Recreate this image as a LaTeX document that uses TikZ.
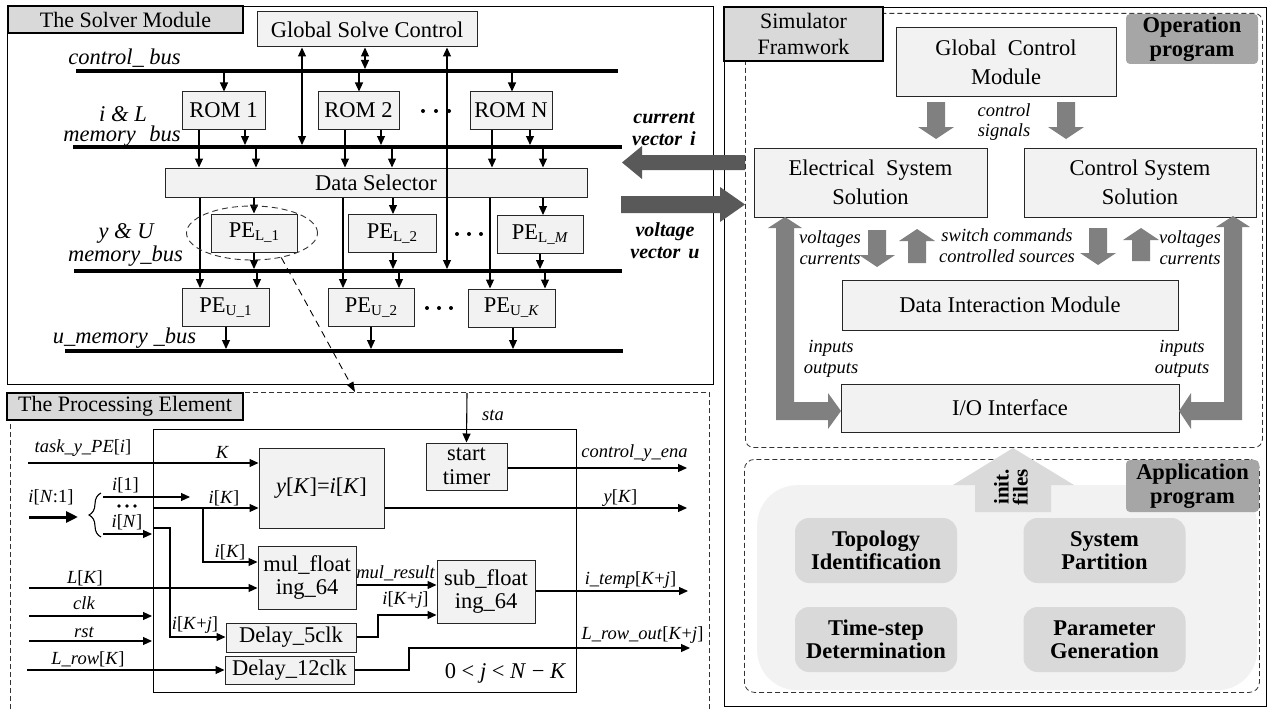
\documentclass[tikz,border=0pt]{standalone}
\usepackage{fontspec}
\setmainfont{Liberation Serif}
\usetikzlibrary{arrows.meta,decorations.pathreplacing,shapes.geometric}
\definecolor{boxfill}{HTML}{F2F2F2}
\definecolor{titlefill}{HTML}{D9D9D9}
\definecolor{labelfill}{HTML}{A6A6A6}
\definecolor{darkarrow}{HTML}{595959}
\definecolor{midarrow}{HTML}{808080}
\definecolor{appfill}{HTML}{F2F2F2}
\definecolor{appbox}{HTML}{D9D9D9}
\definecolor{initfill}{HTML}{DADADA}
\newcommand\bigfont{\fontsize{22.5}{26}\selectfont}
\newcommand\boxfont{\fontsize{22.5}{28.5}\selectfont}
\newcommand\tightfont{\fontsize{22.5}{23.5}\selectfont}
\newcommand\smallfont{\fontsize{18.5}{21}\selectfont}
\newcommand\medfont{\fontsize{20}{22}\selectfont}
\newcommand\initfont{\fontsize{21}{19}\selectfont}
\newcommand\pesub[1]{\raisebox{-0.3ex}{\fontsize{15}{15}\selectfont #1}}
\newcommand\lbk{\textup{[}}
\newcommand\rbk{\textup{]}}
\newcommand\blockdown[3]{\fill[midarrow] ({#1-9},#2) -- ({#1+9},#2) -- ({#1+9},{#3-12}) -- ({#1+18},{#3-12}) -- (#1,#3) -- ({#1-18},{#3-12}) -- ({#1-9},{#3-12}) -- cycle;}
\newcommand\blockup[3]{\fill[midarrow] ({#1-9},#3) -- ({#1+9},#3) -- ({#1+9},{#2+12}) -- ({#1+18},{#2+12}) -- (#1,#2) -- ({#1-18},{#2+12}) -- ({#1-9},{#2+12}) -- cycle;}
\tikzset{
  frame/.style={draw=black, line width=1.2pt, inner sep=0pt},
  dashframe/.style={draw=black!80, line width=0.8pt, dash pattern=on 5pt off 3pt, inner sep=0pt},
  titlebox/.style={draw=black, fill=titlefill, line width=1.2pt, inner sep=0pt, align=center, font=\fontsize{22}{26}\selectfont},
  box/.style={draw=black!85, fill=boxfill, line width=1pt, inner sep=0pt, align=center, font=\boxfont},
  pebox/.style={draw=black!85, fill=boxfill, line width=1pt, inner sep=0pt, align=center, font=\tightfont},
  oplabel/.style={fill=labelfill, rounded corners=4pt, inner sep=0pt, align=center, font=\tightfont\bfseries},
  appb/.style={fill=appbox, rounded corners=14pt, inner sep=0pt, align=center, font=\tightfont\bfseries, minimum width=162, minimum height=65},
  lbl/.style={inner sep=0pt, font=\smallfont\itshape, align=center},
  buslbl/.style={inner sep=0pt, font=\bigfont\itshape, align=center},
  bus/.style={line width=4pt},
  arr/.style={line width=1.1pt, -{Triangle[length=9pt,width=8pt]}},
  darr/.style={line width=1.1pt, {Triangle[length=9pt,width=8pt]}-{Triangle[length=9pt,width=8pt]}},
  dotc/.style={fill=black},
}
\begin{document}
\begin{tikzpicture}[x=1pt,y=-1pt]
\useasboundingbox (0,0) rectangle (1267,709);
\fill[white] (0,0) rectangle (1267,709);

% ================= Solver module
\node[frame, minimum width=706, minimum height=378, anchor=north west] (solver) at (7,6) {};
\node[titlebox, minimum width=235, minimum height=27] (soltitle) at (125.5,19.5) {The Solver Module};
\node[box, font=\bigfont, minimum width=220, minimum height=35] (GSC) at (367,29.5) {Global Solve Control};
\node[box, font=\bigfont, minimum width=83, minimum height=37] (ROM1) at (223.5,110.5) {ROM 1};
\node[box, font=\bigfont, minimum width=81, minimum height=37] (ROM2) at (358.5,110.5) {ROM 2};
\node[box, font=\bigfont, minimum width=82, minimum height=37] (ROMN) at (511,110.5) {ROM N};

\coordinate (cbus) at (0,71);  \coordinate (cbusT) at (0,69);
\coordinate (ilbus) at (0,147); \coordinate (ilbusT) at (0,145);
\coordinate (yubus) at (0,271); \coordinate (yubusT) at (0,269);
\coordinate (ubus) at (0,351);  \coordinate (ubusT) at (0,349);

\draw[bus] (76,71) -- (618,71);
\draw[bus] (73,147) -- (622,147);
\draw[bus] (74,271) -- (622,271);
\draw[bus] (65,351) -- (623,351);

\node[buslbl] at (124.5,58) {control\_\ bus};
\node[buslbl] at (123,114) {i \& L};
\node[buslbl] at (122,136) {memory\hspace{0.6em}bus};
\node[buslbl] at (126,233) {y \& U};
\node[buslbl] at (125.5,256) {memory\_bus};
\node[buslbl] at (124.5,338) {u\_memory \_bus};

\node[box, font=\bigfont, minimum width=422, minimum height=29] (DS) at (376,182.5) {Data Selector};
\node[box, font=\bigfont, minimum width=86, minimum height=38] (PEL1) at (254,233) {PE\pesub{L\_1}};
\node[box, font=\bigfont, minimum width=88, minimum height=38] (PEL2) at (392,233.5) {PE\pesub{L\_2}};
\node[box, font=\bigfont, minimum width=86, minimum height=38] (PELM) at (540,234.5) {PE\pesub{L\_\textit{M}}};
\node[box, font=\bigfont, minimum width=87, minimum height=38] (PEU1) at (225.5,307.5) {PE\pesub{U\_1}};
\node[box, font=\bigfont, minimum width=86, minimum height=38] (PEU2) at (371,307.5) {PE\pesub{U\_2}};
\node[box, font=\bigfont, minimum width=87, minimum height=38] (PEUK) at (511.5,308) {PE\pesub{U\_\textit{K}}};

% global control links
\draw[darr] (GSC.south -| 302,0) -- (302,0 |- ilbusT);
\draw[darr] (GSC.south -| 365,0) -- (365,0 |- cbusT);
\draw[darr] (GSC.south -| 447,0) -- (447,0 |- yubusT);
% control bus -> ROMs
\draw[arr] (224,0 |- cbus) -- (ROM1.north -| 224,0);
\draw[arr] (359,0 |- cbus) -- (ROM2.north -| 359,0);
\draw[arr] (512,0 |- cbus) -- (ROMN.north -| 512,0);
% ROMs -> bus / selector
\draw[arr] (ROM1.south -| 245,0) -- (245,0 |- ilbusT);
\draw[arr] (ROM1.south -| 199,0) -- (DS.north -| 199,0);
\draw[arr] (256,0 |- ilbus) -- (DS.north -| 256,0);
\draw[arr] (ROM2.south -| 381,0) -- (381,0 |- ilbusT);
\draw[arr] (ROM2.south -| 345,0) -- (DS.north -| 345,0);
\draw[arr] (392,0 |- ilbus) -- (DS.north -| 392,0);
\draw[arr] (ROMN.south -| 530,0) -- (530,0 |- ilbusT);
\draw[arr] (ROMN.south -| 492,0) -- (DS.north -| 492,0);
\draw[arr] (543,0 |- ilbus) -- (DS.north -| 543,0);
% selector -> PEs
\draw[arr] (DS.south -| 200,0) -- (PEU1.north -| 200,0);
\draw[arr] (DS.south -| 254,0) -- (PEL1.north -| 254,0);
\draw[arr] (PEL1.south -| 254,0) -- (254,0 |- yubusT);
\draw[arr] (257,0 |- yubus) -- (PEU1.north -| 257,0);
\draw[arr] (PEU1.south -| 226,0) -- (226,0 |- ubusT);
\draw[arr] (DS.south -| 343,0) -- (PEU2.north -| 343,0);
\draw[arr] (DS.south -| 393,0) -- (PEL2.north -| 393,0);
\draw[arr] (PEL2.south -| 393,0) -- (393,0 |- yubusT);
\draw[arr] (399,0 |- yubus) -- (PEU2.north -| 399,0);
\draw[arr] (PEU2.south -| 371,0) -- (371,0 |- ubusT);
\draw[arr] (DS.south -| 490,0) -- (PEUK.north -| 490,0);
\draw[arr] (DS.south -| 543,0) -- (PELM.north -| 543,0);
\draw[arr] (PELM.south -| 540,0) -- (540,0 |- yubusT);
\draw[arr] (545,0 |- yubus) -- (PEUK.north -| 545,0);
\draw[arr] (PEUK.south -| 513,0) -- (513,0 |- ubusT);

% dots
\foreach \dx in {423,436,449} {\fill (\dx,111) circle[radius=2pt];}
\foreach \dx in {457,469,481} {\fill (\dx,234) circle[radius=2pt];}
\foreach \dx in {427,439,451} {\fill (\dx,308) circle[radius=2pt];}

% zoom ellipse and dashed link
\node[ellipse, draw=black!80, line width=0.9pt, dash pattern=on 6pt off 4pt, minimum width=131, minimum height=54, inner sep=0pt] (ell) at (252,233) {};
\coordinate (pecorner) at (355,392);

% ================= Processing element
\node[dashframe, minimum width=699, minimum height=330, anchor=north west] (peframe) at (10,392) {};
\draw[line width=0.9pt, dash pattern=on 7pt off 5pt, -{Triangle[length=10pt,width=7pt]}] (ell.-40) -- (pecorner);
\node[titlebox, minimum width=236, minimum height=27] (petitle) at (125,406.5) {The Processing Element};
\node[frame, minimum width=423, minimum height=263, anchor=north west] (pebig) at (153,429) {};

\node[pebox, minimum width=125, minimum height=80] (yK) at (321.5,488) {\textit{y}[\textit{K}]=\textit{i}[\textit{K}]};
\node[pebox, minimum width=81, minimum height=47] (timer) at (466.5,466.5) {start\\timer};
\node[pebox, minimum width=98, minimum height=63] (mul) at (307,577.5) {mul\_float\\ing\_64};
\node[pebox, minimum width=98, minimum height=63] (sub) at (486,591.5) {sub\_float\\ing\_64};
\node[pebox, minimum width=130, minimum height=29] (D5) at (291,637.5) {Delay\_5clk};
\node[pebox, minimum width=129, minimum height=28] (D12) at (289.5,670) {Delay\_12clk};

% inputs
\draw[arr] (28,463) -- (yK.west |- 0,463);
\node[lbl] at (83,448) {task\_y\_PE\lbk i\rbk};
\node[lbl] at (222,452) {K};
\draw[line width=3pt, -{Triangle[length=12pt,width=11pt]}] (29,517) -- (78,517);
\node[lbl] at (51,497) {i\lbk N\textup{:1}\rbk};
\draw[line width=1.1pt, decorate, decoration={brace, amplitude=12pt}] (101,537) -- (101,493);
\draw[arr] (103,497) -- (190,497);
\node[lbl] at (125.5,485) {i\lbk\textup{1}\rbk};
\foreach \dx in {119,127,135} {\fill (\dx,506) circle[radius=1.8pt];}
\draw[arr] (103,534) -- (152,534);
\node[lbl] at (127,522) {i\lbk N\rbk};
\draw[arr] (153,508) -- (yK.west |- 0,508);
\node[lbl] at (224,498) {i\lbk K\rbk};
\draw[arr] (203,508) -- (203,562) -- (mul.west |- 0,562);
\node[lbl] at (230,552) {i\lbk K\rbk};
\draw[arr] (153,528) -- (170,528) -- (170,637) -- (D5.west |- 0,637);
\node[lbl] at (195,625) {i\lbk K\textup{+}j\rbk};
\draw[arr] (29,588) -- (mul.west |- 0,588);
\node[lbl] at (85,578) {L\lbk K\rbk};
\draw[arr] (29,616) -- (152,616);
\node[lbl] at (84,603) {clk};
\draw[arr] (29,641) -- (152,641);
\node[lbl] at (84,632) {rst};
\draw[arr] (27,670) -- (D12.west);
\node[lbl] at (88,659) {L\_row\lbk K\rbk};

% outputs
\draw[arr] (467,393) -- (timer.north);
\node[lbl] at (493,415) {sta};
\draw[arr] (timer.east |- 0,468) -- (687,468);
\node[lbl] at (634.5,453) {control\_y\_ena};
\draw[arr] (yK.east |- 0,508) -- (687,508);
\node[lbl] at (620.5,498) {y\lbk K\rbk};
\draw[arr] (mul.east |- 0,585) -- (sub.west |- 0,585);
\node[lbl] at (395.5,573) {mul\_result};
\draw[arr] (D5.east |- 0,637) -- (378,637) -- (378,615) -- (sub.west |- 0,615);
\node[lbl] at (405.5,600) {i\lbk K\textup{+}j\rbk};
\draw[arr] (sub.east |- 0,591) -- (688,591);
\node[lbl] at (630.5,580) {i\_temp\lbk K\textup{+}j\rbk};
\draw[arr] (D12.east) -- (409,670) -- (409,648) -- (690,648);
\node[lbl] at (642.5,635) {L\_row\_out\lbk K\textup{+}j\rbk};
\node[inner sep=0pt, font=\bigfont] at (505.5,673) {0 < \textit{j} < \textit{N} − \textit{K}};

% ================= Simulator framework
\node[frame, minimum width=542, minimum height=699, anchor=north west] (sim) at (724,7) {};
\node[dashframe, rounded corners=8pt, minimum width=517, minimum height=434, anchor=north west] (opbox) at (745,13) {};
\node[titlebox, minimum width=159, minimum height=54] (simtitle) at (803.5,34) {Simulator\\Framwork};
\node[oplabel, minimum width=132, minimum height=50] (oplab) at (1192,39) {Operation\\program};

\node[box, minimum width=220, minimum height=69] (GCM) at (1006,62.5) {Global\hspace{0.5em}Control\\Module};
\node[box, minimum width=233, minimum height=69] (ESS) at (870.5,182.5) {Electrical\hspace{0.5em}System\\Solution};
\node[box, minimum width=232, minimum height=69] (CSS) at (1140,182.5) {Control System\\Solution};
\node[box, minimum width=336, minimum height=50] (DIM) at (1010,305) {Data Interaction Module};
\node[box, minimum width=338, minimum height=48] (IO) at (1010,408) {I/O Interface};

\blockdown{936}{102}{139}
\blockdown{1066}{102}{139}
\node[lbl, font=\fontsize{18.5}{20}\selectfont\itshape] at (1004,122) {control\\signals};

\blockdown{877}{230}{267}
\blockup{917}{229}{263}
\blockdown{1098}{228}{265}
\blockup{1141}{228}{261}
\node[lbl] at (830,247.5) {voltages\\currents};
\node[lbl] at (1007,245.5) {switch commands\\controlled sources};
\node[lbl] at (1190,247.5) {voltages\\currents};

% L-shaped links to I/O
\fill[midarrow] (776,420) -- (776,228) -- (768,228) -- (785,217) -- (802,228) -- (794,228) -- (794,402) -- (828,402) -- (828,393) -- (841,411) -- (828,429) -- (828,420) -- cycle;
\fill[midarrow] (1242,420) -- (1242,227) -- (1250,227) -- (1233,216) -- (1216,227) -- (1224,227) -- (1224,402) -- (1191,402) -- (1191,393) -- (1179,411) -- (1191,429) -- (1191,420) -- cycle;
\node[lbl] at (831,359) {inputs\\outputs};
\node[lbl] at (1182,359) {inputs\\outputs};

% current / voltage vectors
\fill[darkarrow] (745,155) -- (642,155) -- (642,146) -- (622,162.5) -- (642,179) -- (642,170) -- (745,170) -- cycle;
\fill[darkarrow] (621,196) -- (720,196) -- (720,187) -- (745,204.5) -- (720,222) -- (720,213) -- (621,213) -- cycle;
\node[lbl, font=\medfont\bfseries\itshape] at (664,129) {current\\vector\hspace{0.4em}i};
\node[lbl, font=\medfont\bfseries\itshape] at (665,241) {voltage\\vector\hspace{0.4em}u};

% ================= Application program
\node[fill=appfill, rounded corners=40pt, minimum width=500, minimum height=205, anchor=north west, inner sep=0pt] (appbg) at (757,485) {};
\node[dashframe, rounded corners=10pt, minimum width=515, minimum height=233, anchor=north west] (appbox) at (744,459) {};
\fill[initfill] (975,512) -- (975,485) -- (953,485) -- (1013,448) -- (1074,485) -- (1051,485) -- (1051,512) -- cycle;
\node[rotate=90, font=\initfont\bfseries, align=center, inner sep=0pt] (init) at (1011,487) {init.\\files};
\node[oplabel, minimum width=133, minimum height=52] (applab) at (1192.5,486) {Application\\program};
\node[appb] (topo) at (876,550.5) {Topology\\Identification};
\node[appb] (part) at (1104.5,550.5) {System\\Partition};
\node[appb] (tstep) at (876,639.5) {Time-step\\Determination};
\node[appb] (param) at (1104.5,639.5) {Parameter\\Generation};
\end{tikzpicture}
\end{document}
